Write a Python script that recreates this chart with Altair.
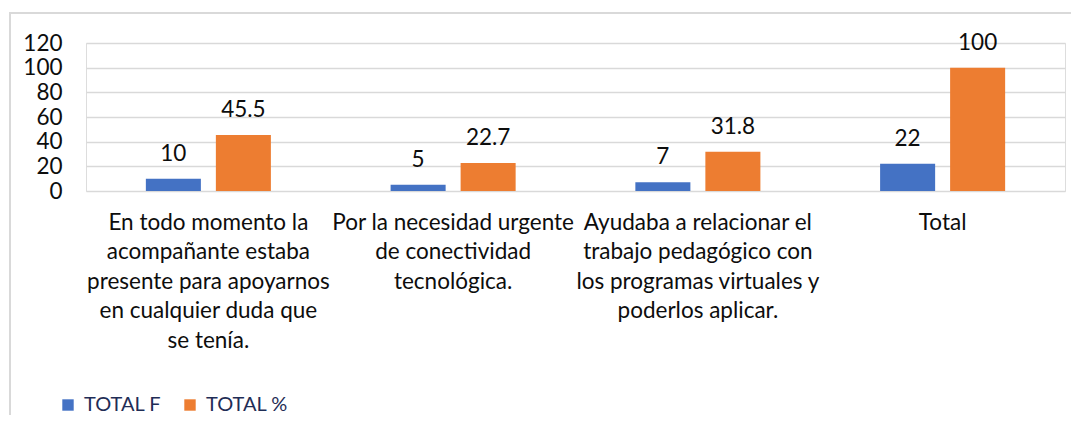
import altair as alt
import pandas as pd

categories = [
    "En todo momento la\nacompañante estaba\npresente para apoyarnos\nen cualquier duda que\nse tenía.",
    "Por la necesidad urgente\nde conectividad\ntecnológica.",
    "Ayudaba a relacionar el\ntrabajo pedagógico con\nlos programas virtuales y\npoderlos aplicar.",
    "Total",
]
series = ["TOTAL F", "TOTAL %"]
total_f = [10, 5, 7, 22]
total_pct = [45.5, 22.7, 31.8, 100]
colors = ["#4472c4", "#ed7d31"]
y_ticks = [0, 20, 40, 60, 80, 100, 120]

rows = []
for c, f, p in zip(categories, total_f, total_pct):
    rows.append({"cat": c, "serie": series[0], "valor": f, "etq": f"{f:g}"})
    rows.append({"cat": c, "serie": series[1], "valor": p, "etq": f"{p:g}"})
df = pd.DataFrame(rows)

FONT = "Lato"
FS = 22.5

x = alt.X(
    "cat:N",
    sort=categories,
    scale=alt.Scale(paddingInner=0, paddingOuter=0),
    axis=alt.Axis(
        title=None,
        labelAngle=0,
        domain=False,
        ticks=False,
        labelExpr="split(datum.label, '\\n')",
        labelFont=FONT,
        labelFontSize=FS,
        labelColor="#0d0d0d",
        labelLineHeight=29.5,
        labelBaseline="top",
        labelPadding=20,
        labelLimit=400,
    ),
)
xoff = alt.XOffset(
    "serie:N",
    sort=series,
    scale=alt.Scale(paddingInner=0.214, paddingOuter=0.855),
)
y = alt.Y(
    "valor:Q",
    scale=alt.Scale(domain=[0, 120], nice=False),
    axis=alt.Axis(
        title=None,
        values=y_ticks,
        labelOverlap=False,
        grid=True,
        gridColor="#d9d9d9",
        gridWidth=1.5,
        domain=False,
        ticks=False,
        labelFont=FONT,
        labelFontSize=FS,
        labelColor="#0d0d0d",
        labelPadding=24,
    ),
)

base = alt.Chart(df)

bars = base.mark_bar().encode(
    x=x,
    xOffset=xoff,
    y=y,
    color=alt.Color(
        "serie:N",
        sort=series,
        scale=alt.Scale(domain=series, range=colors),
        legend=alt.Legend(
            title=None,
            orient="none",
            direction="horizontal",
            legendX=-28,
            legendY=352,
            symbolType="square",
            symbolSize=130,
            symbolStrokeWidth=0,
            labelFont=FONT,
            labelFontSize=20,
            labelColor="#1f2d56",
            labelOffset=6,
            columnPadding=18,
        ),
    ),
)

labels = base.mark_text(
    font=FONT, fontSize=FS, color="#0d0d0d", baseline="middle", dy=-25
).encode(
    x=x,
    xOffset=xoff,
    y=y,
    text="etq:N",
)

border = alt.Chart(pd.DataFrame({"k": [0]})).mark_rect(
    fill=None, stroke="#d9d9d9", strokeWidth=2
).encode(
    x=alt.value(-76), x2=alt.value(1010), y=alt.value(-30), y2=alt.value(420)
)

chart = (
    alt.layer(border, bars, labels)
    .properties(
        width=979,
        height=148,
        autosize=alt.AutoSizeParams(type="none"),
        padding={"left": 78, "top": 35, "right": 6, "bottom": 224},
    )
    .configure_view(stroke=None)
    .configure(background="white")
)

chart.save("out.html", embed_options={"renderer": "svg", "actions": False})
